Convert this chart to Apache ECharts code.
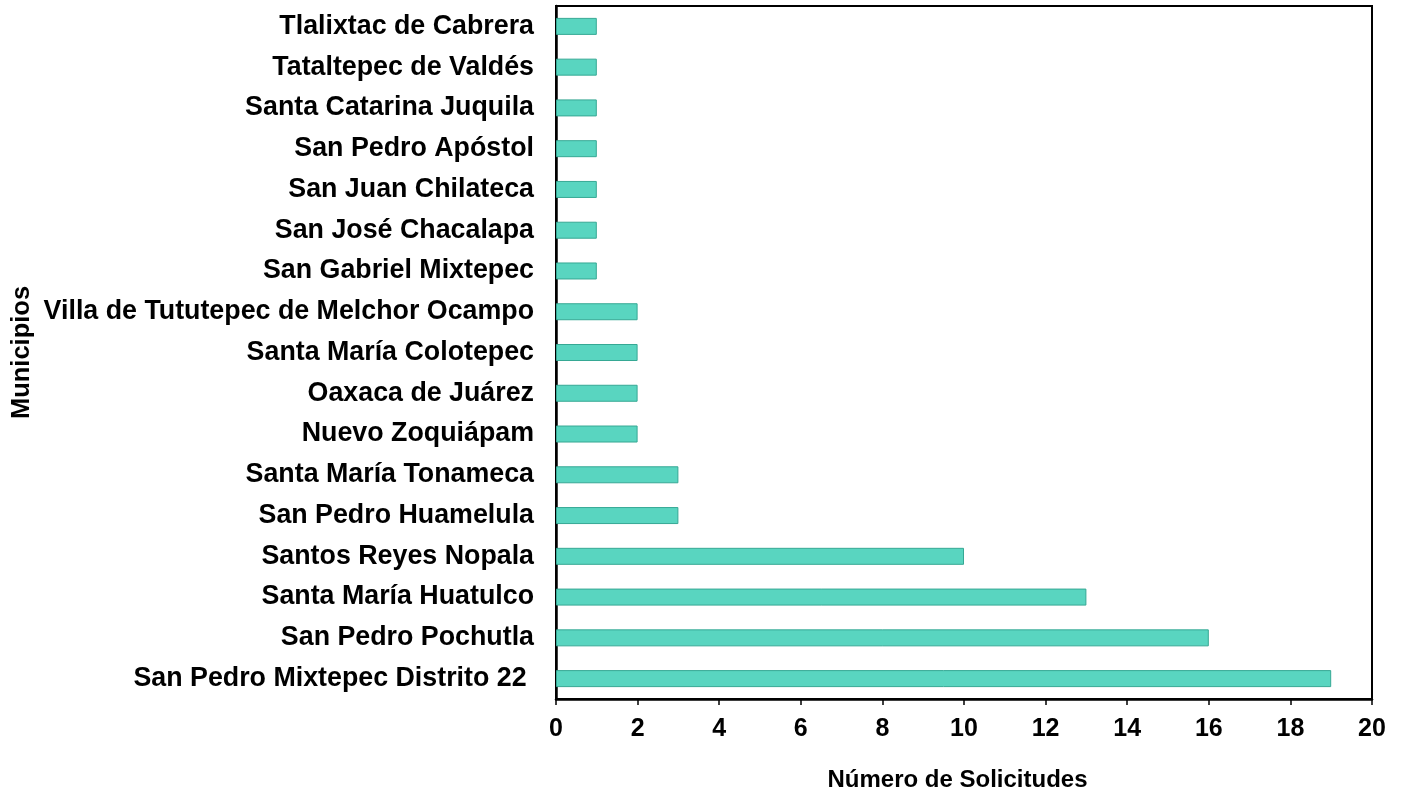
<!DOCTYPE html>
<html>
<head>
<meta charset="utf-8">
<script src="https://cdn.jsdelivr.net/npm/echarts@6/dist/echarts.min.js"></script>
<style>
html,body{margin:0;padding:0;background:#fff;}
#chart{width:1403px;height:794px;}
</style>
</head>
<body>
<div id="chart"></div>
<script>
const municipios = [
  "Tlalixtac de Cabrera",
  "Tataltepec de Valdés",
  "Santa Catarina Juquila",
  "San Pedro Apóstol",
  "San Juan Chilateca",
  "San José Chacalapa",
  "San Gabriel Mixtepec",
  "Villa de Tututepec de Melchor Ocampo",
  "Santa María Colotepec",
  "Oaxaca de Juárez",
  "Nuevo Zoquiápam",
  "Santa María Tonameca",
  "San Pedro Huamelula",
  "Santos Reyes Nopala",
  "Santa María Huatulco",
  "San Pedro Pochutla",
  "San Pedro Mixtepec Distrito 22 "
];
const solicitudes = [1, 1, 1, 1, 1, 1, 1, 2, 2, 2, 2, 3, 3, 10, 13, 16, 19];
const xTicks = [0, 2, 4, 6, 8, 10, 12, 14, 16, 18, 20];

const font = "'Liberation Sans', Arial, sans-serif";
const chart = echarts.init(document.getElementById('chart'), null, {renderer: 'canvas'});
chart.setOption({
  animation: false,
  backgroundColor: '#ffffff',
  grid: {
    left: 556, top: 6, right: 31, bottom: 95,
    containLabel: false,
    outerBoundsMode: 'none',
    show: true, borderColor: '#000', borderWidth: 2, backgroundColor: 'transparent'
  },
  xAxis: {
    type: 'value',
    min: xTicks[0], max: xTicks[xTicks.length - 1], interval: 2,
    name: 'Número de Solicitudes',
    nameLocation: 'middle',
    nameGap: 69,
    nameMoveOverlap: false,
    nameTextStyle: {fontFamily: font, fontWeight: 'bold', fontSize: 24, color: '#000', padding: [0, 13, 0, 0]},
    axisLine: {show: true, lineStyle: {color: '#000', width: 2.5}},
    axisTick: {show: true, inside: false, length: 6, lineStyle: {color: '#000', width: 1.5}},
    axisLabel: {margin: 18, fontFamily: font, fontWeight: 'bold', fontSize: 25, color: '#000'},
    splitLine: {show: false}
  },
  yAxis: {
    type: 'category',
    data: municipios,
    inverse: true,
    name: 'Municipios',
    nameLocation: 'middle',
    nameGap: 521,
    nameRotate: 90,
    nameMoveOverlap: false,
    nameTextStyle: {fontFamily: font, fontWeight: 'bold', fontSize: 25.5, color: '#000'},
    axisLine: {show: true, lineStyle: {color: '#000', width: 2.5}},
    axisTick: {show: false},
    axisLabel: {margin: 22, fontFamily: font, fontWeight: 'bold', fontSize: 26.8, color: '#000'},
    splitLine: {show: false}
  },
  series: [{
    type: 'bar',
    data: solicitudes,
    barWidth: 17,
    itemStyle: {color: '#59d5c0', borderColor: '#36a894', borderWidth: 1}
  }]
});
</script>
</body>
</html>
